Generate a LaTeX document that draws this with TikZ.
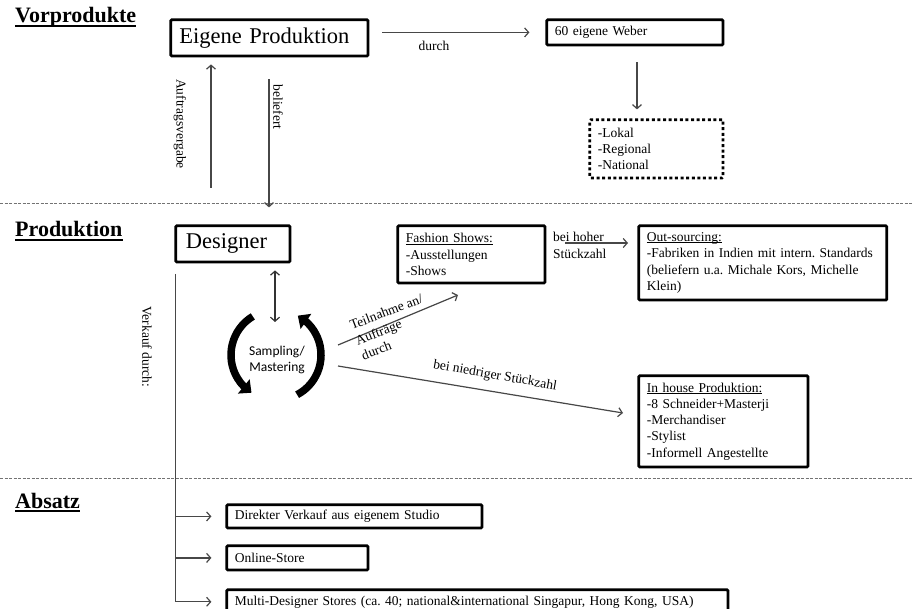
\documentclass[tikz,border=0pt]{standalone}
\usepackage{fontspec}
\setmainfont{Liberation Serif}
\newfontfamily\calfont{Carlito}
\usetikzlibrary{arrows.meta,bending}
\frenchspacing
\newcommand\txtsz{\fontsize{13.5}{16.3}\selectfont\hyphenpenalty=10000\exhyphenpenalty=10000}
\newcommand\bigsz{\fontsize{22.5}{26}\selectfont}
\newcommand\headsz{\fontsize{22}{26}\selectfont\bfseries}
\newcommand\ulx[1]{\setbox0\hbox{#1}\rlap{\rule[-1.8pt]{\wd0}{0.8pt}}\box0}
\begin{document}
\begin{tikzpicture}[x=1pt,y=-1pt,
  box/.style={draw=black, line width=2.8pt, rounded corners=1pt, anchor=north west,
    inner xsep=8pt, inner ysep=0pt, align=left, font=\txtsz},
  dotbox/.style={box, dash pattern=on 3pt off 2.6pt},
  arr/.style={draw=black!72, line width=1.2pt, -{Straight Barb[length=4pt,width=9pt]}},
  arrtwo/.style={draw=black!80, line width=1.2pt, {Straight Barb[length=4pt,width=9pt]}-{Straight Barb[length=4pt,width=9pt]}},
  cyc/.style={draw=black, line width=7.5pt, -{Triangle[length=10pt,width=18pt]}},
  lbl/.style={font=\txtsz, inner sep=0pt},
  head/.style={font=\headsz, inner sep=0pt, anchor=base west},
  sep/.style={draw=black!55, line width=0.9pt, dash pattern=on 3pt off 1.5pt}
]
\useasboundingbox (0,0) rectangle (913,609);

% separators
\draw[sep] (0,203) -- (913,203);
\draw[sep] (0,478) -- (913,478);

% headings
\node[head] (hv) at (15,23) {Vorprodukte};
\node[head] (hp) at (15,237) {Produktion};
\node[head] (ha) at (15,508) {Absatz};
\foreach \h in {hv,hp,ha}{
  \draw[line width=1.5pt] ([yshift=-3pt]\h.base west) -- ([yshift=-3pt]\h.base east);
}

% Vorprodukte
\node[box, inner xsep=8.6pt, text width=180pt, minimum height=36.2pt, font=\bigsz] (ep) at (169.4,18.4) {Eigene Produktion};
\node[box, text width=160.2pt, minimum height=25.2pt] (weber) at (545.4,18.4) {60 eigene Weber};
\node[dotbox, text width=117.2pt, minimum height=58.2pt] (lok) at (588.4,118.4) {-Lokal\\-Regional\\-National};

\draw[arr, shorten <=13pt, shorten >=16pt] (weber.west -| ep.east) -- (weber.west);
\node[lbl] (ldurch) at (434,46) {durch};
\coordinate (wd) at (637,0);
\draw[arr, shorten <=16pt, shorten >=9pt] (wd |- weber.south) -- (wd |- lok.north);

\coordinate (auf) at (211,188);
\draw[arr, shorten >=7pt] (auf) -- (auf |- ep.south);
\node[lbl, rotate=-90] (lauf) at (180,124) {Auftragsvergabe};
\coordinate (bel) at (269,0);
\draw[arr, shorten <=22pt, shorten >=17pt] (bel |- ep.south) -- (bel |- 0,224.4);
\node[lbl, rotate=-90] (lbel) at (278,107) {beliefert};

% Produktion
\node[box, inner xsep=10pt, text width=94.2pt, minimum height=36.2pt, font=\bigsz] (des) at (174.4,224.4) {Designer};
\node[box, text width=131.2pt, minimum height=57.2pt] (fash) at (396.4,224.4) {\ulx{Fashion Shows:}\\-Ausstellungen\\-Shows};
\node[box, text width=232pt, minimum height=74.2pt] (outs) at (637.4,224.4) {\ulx{Out-sourcing:}\\-Fabriken in Indien mit intern. Standards\\(beliefern u.a. Michale Kors, Michelle\\Klein)};
\node[box, text width=153.2pt, minimum height=91.2pt] (inh) at (637.4,374.4) {\ulx{In house Produktion:}\\-8 Schneider+Masterji\\-Merchandiser\\-Stylist\\-Informell Angestellte};

\node[font=\calfont\fontsize{13.5}{16}\selectfont, align=center, inner sep=0pt] (sm) at (277,360) {Sampling/\\Mastering};
\draw[cyc] (276,355) ++(-121:45) arc[start angle=-121, end angle=-237, radius=45];
\draw[cyc] (276,355) ++(62:45) arc[start angle=62, end angle=-61, radius=45];

\coordinate (dbl) at (275,322);
\draw[arrtwo, shorten <=7pt] (dbl |- des.south) -- (dbl);

\coordinate (t0) at (338,345);
\coordinate (t1) at (458,295);
\draw[arr] (t0) -- (t1);
\node[lbl, rotate=21, align=left] (ltn) at (392,327) {Teilnahme an/\\Aufträge\\durch};

\coordinate (n0) at (338,366);
\coordinate (n1) at (623,413);
\draw[arr] (n0) -- (n1);
\node[lbl, rotate=-10] (lnd) at (495,376) {bei niedriger Stückzahl};

\coordinate (h0) at (565,243);
\coordinate (h1) at (628,243);
\draw[arr] (h0) -- (h1);
\node[lbl, align=left, anchor=west] (lho) at (553,245.5) {bei hoher\\Stückzahl};

% Absatz
\node[box, text width=239.2pt, minimum height=23.2pt] (dir) at (225.4,503.4) {Direkter Verkauf aus eigenem Studio};
\node[box, text width=125.2pt, minimum height=24.2pt] (onl) at (225.4,544.4) {Online-Store};
\node[box, text width=485.2pt, minimum height=24pt] (mult) at (225.4,588.4) {Multi-Designer Stores (ca. 40; national\&international Singapur, Hong Kong, USA)};

\coordinate (vk) at (175.5,274);
\draw[arr, shorten >=14pt] (vk) |- (mult.west);
\draw[arr, shorten >=14pt] (vk |- dir.west) -- (dir.west);
\draw[arr, shorten >=14pt] (vk |- onl.west) -- (onl.west);
\node[lbl, rotate=-90] (lvk) at (147,347) {Verkauf durch:};
\end{tikzpicture}
\end{document}
